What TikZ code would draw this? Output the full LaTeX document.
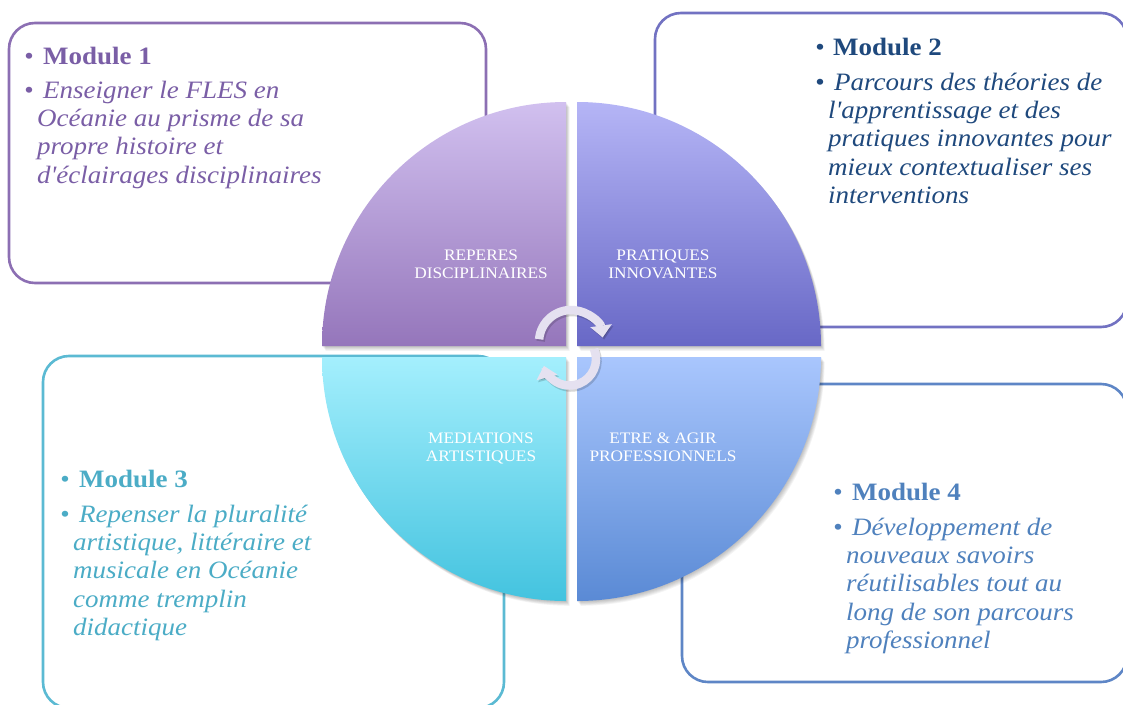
\documentclass[tikz,border=0pt]{standalone}
\usepackage{fontspec}
\setmainfont{Liberation Serif}[FakeStretch=1.08, Ligatures=TeXOff]
\usetikzlibrary{arrows.meta}
\definecolor{tA}{HTML}{7A5EA6}
\definecolor{tB}{HTML}{1F497D}
\definecolor{tC}{HTML}{4BACC6}
\definecolor{tD}{HTML}{4F81BD}
\definecolor{bA}{HTML}{8C6FB3}
\definecolor{bB}{HTML}{7272C2}
\definecolor{bC}{HTML}{5BBAD3}
\definecolor{bD}{HTML}{5E86C6}
\definecolor{qAt}{HTML}{D1C0EF}
\definecolor{qAb}{HTML}{9576BB}
\definecolor{qBt}{HTML}{B5B5F6}
\definecolor{qBb}{HTML}{6868C6}
\definecolor{qCt}{HTML}{A4EFFD}
\definecolor{qCb}{HTML}{43C3DF}
\definecolor{qDt}{HTML}{A9C6FD}
\definecolor{qDb}{HTML}{5A8AD5}
\definecolor{arr}{HTML}{E5E1F0}
\newcommand{\bodylines}[1]{\begin{tabular}[t]{@{}l@{}}#1\end{tabular}}
\newcommand{\quadlines}[1]{\begin{tabular}[t]{@{}c@{}}#1\end{tabular}}
\begin{document}
\begin{tikzpicture}[x=1pt,y=-1pt,
  modbox/.style={rounded corners=26pt, line width=2.6pt, fill=white},
  ttl/.style={anchor=base west, inner sep=0pt, font=\fontsize{25}{28.5}\selectfont\bfseries},
  body/.style={anchor=base west, inner sep=0pt, font=\fontsize{25}{28.4}\selectfont\itshape},
  bul/.style={anchor=base, inner sep=0pt, font=\fontsize{25}{28}\selectfont},
  qlab/.style={anchor=base, inner sep=0pt, text=white, font=\fontsize{16}{18}\selectfont},
  cyc/.style={line width=8.5pt, draw=arr, -{Triangle[width=21pt,length=12pt]}},
  cycsh/.style={line width=8.5pt, draw=black, opacity=0.16, -{Triangle[width=21pt,length=12pt]}}
]
\useasboundingbox (0,0) rectangle (1123,704);
\fill[white] (0,0) rectangle (1123,704);

% module boxes
\draw[modbox, draw=bA] (9,23) rectangle (486,283);
\draw[modbox, draw=bB] (655,13) rectangle (1127,327);
\draw[modbox, draw=bC] (43,356) rectangle (504,708);
\draw[modbox, draw=bD] (682,384) rectangle (1127,682);

% shadows of quadrants
\foreach \s in {1,2,3,4,5,6}{
\begin{scope}[shift={(0.6*\s,0.8*\s)}]
\fill[black, opacity=0.045] (566,346) -- (322,346) arc[start angle=180,end angle=270,radius=244] -- cycle;
\fill[black, opacity=0.045] (577,346) -- (577,102) arc[start angle=270,end angle=360,radius=244] -- cycle;
\fill[black, opacity=0.045] (566,357) -- (322,357) arc[start angle=180,end angle=90,radius=244] -- cycle;
\fill[black, opacity=0.045] (577,357) -- (821,357) arc[start angle=0,end angle=90,radius=244] -- cycle;
\end{scope}}

% quadrants
\path[top color=qAt, bottom color=qAb] (566,346) -- (322,346) arc[start angle=180,end angle=270,radius=244] -- cycle;
\path[top color=qBt, bottom color=qBb] (577,346) -- (577,102) arc[start angle=270,end angle=360,radius=244] -- cycle;
\path[top color=qCt, bottom color=qCb] (566,357) -- (322,357) arc[start angle=180,end angle=90,radius=244] -- cycle;
\path[top color=qDt, bottom color=qDb] (577,357) -- (821,357) arc[start angle=0,end angle=90,radius=244] -- cycle;

% quadrant labels
\node[qlab] (q1) at (481,260) {\quadlines{REPERES\\DISCIPLINAIRES}};
\node[qlab] (q2) at (663,260) {\quadlines{PRATIQUES\\INNOVANTES}};
\node[qlab] (q3) at (481,443) {\quadlines{MEDIATIONS\\ARTISTIQUES}};
\node[qlab] (q4) at (663,443) {\quadlines{ETRE \& AGIR\\PROFESSIONNELS}};

% cycle arrows
\draw[cycsh] (572.5,344) ++(-175:32) arc[start angle=-175, end angle=-8, radius=32];
\draw[cycsh] (571,361) ++(-22:26.5) arc[start angle=-22, end angle=165, radius=26.5];
\draw[cyc] (571,342) ++(-175:32) arc[start angle=-175, end angle=-8, radius=32];
\draw[cyc] (569.5,359) ++(-22:26.5) arc[start angle=-22, end angle=165, radius=26.5];

% Module 1
\node[bul, text=tA] (m1b1) at (29,64) {•};
\node[ttl, text=tA] (m1t) at (43,64) {Module 1};
\node[bul, text=tA] (m1b2) at (29,98) {•};
\node[body, text=tA] (m1x) at (37,98) {\bodylines{\hspace*{6pt}Enseigner le FLES en\\Océanie au prisme de sa\\propre histoire et\\d'éclairages disciplinaires}};

% Module 2
\node[bul, text=tB] (m2b1) at (820,55) {•};
\node[ttl, text=tB] (m2t) at (833,55) {Module 2};
\node[bul, text=tB] (m2b2) at (820,90) {•};
\node[body, text=tB] (m2x) at (828,90) {\bodylines{\hspace*{6pt}Parcours des théories de\\l'apprentissage et des\\pratiques innovantes pour\\mieux contextualiser ses\\interventions}};

% Module 3
\node[bul, text=tC] (m3b1) at (65,487) {•};
\node[ttl, text=tC] (m3t) at (79,487) {Module 3};
\node[bul, text=tC] (m3b2) at (65,522) {•};
\node[body, text=tC] (m3x) at (73,522) {\bodylines{\hspace*{6pt}Repenser la pluralité\\artistique, littéraire et\\musicale en Océanie\\comme tremplin\\didactique}};

% Module 4
\node[bul, text=tD] (m4b1) at (838,500) {•};
\node[ttl, text=tD] (m4t) at (852,500) {Module 4};
\node[bul, text=tD] (m4b2) at (838,535) {•};
\node[body, text=tD] (m4x) at (846,535) {\bodylines{\hspace*{6pt}Développement de\\nouveaux savoirs\\réutilisables tout au\\long de son parcours\\professionnel}};
\end{tikzpicture}
\end{document}
